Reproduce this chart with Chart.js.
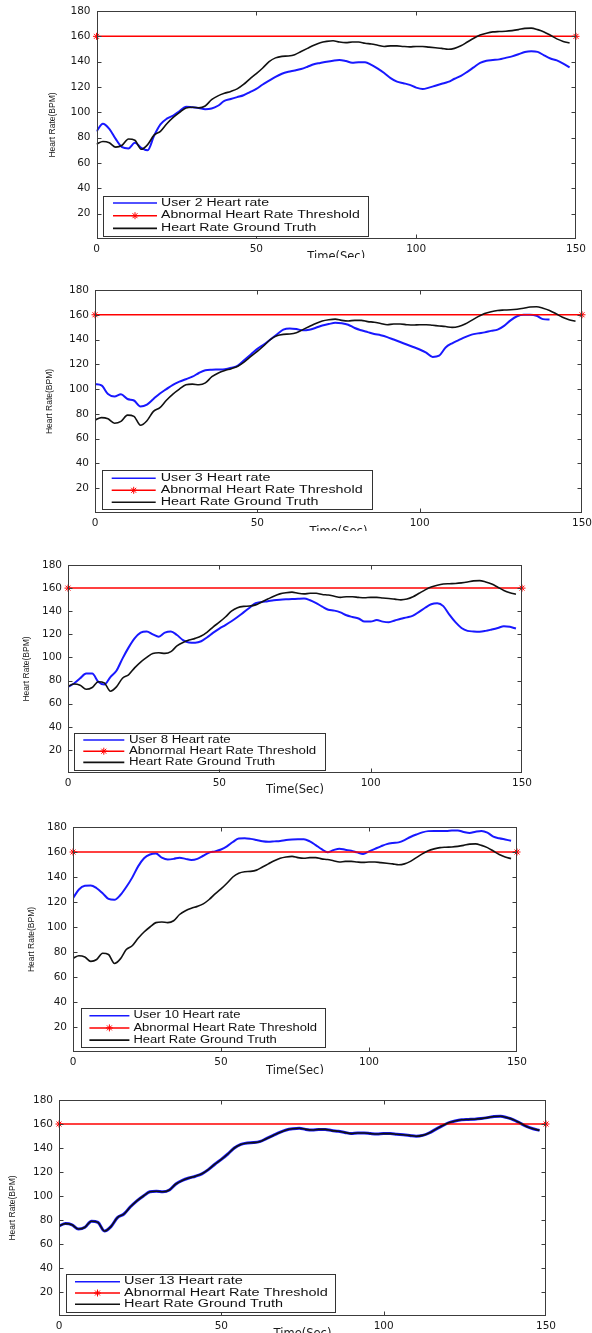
<!DOCTYPE html>
<html>
<head>
<meta charset="utf-8">
<script src="https://cdn.jsdelivr.net/npm/chart.js@4.4.1/dist/chart.umd.min.js"></script>
<style>
  html, body { margin: 0; padding: 0; background: #fff; }
  body { position: relative; width: 592px; height: 1333px; overflow: hidden; }
  canvas { position: absolute; left: 0; }
</style>
</head>
<body>
<canvas id="c1"></canvas>
<canvas id="c2"></canvas>
<canvas id="c3"></canvas>
<canvas id="c4"></canvas>
<canvas id="c5"></canvas>
<script>
// time axis, seconds
const times = [
  0, 2, 4, 6, 8, 10, 12, 14, 16, 18,
  20, 22, 24, 26, 28, 30, 32, 34, 36, 38,
  40, 42, 44, 46, 48, 50, 52, 54, 56, 58,
  60, 62, 64, 66, 68, 70, 72, 74, 76, 78,
  80, 82, 84, 86, 88, 90, 92, 94, 96, 98,
  100, 102, 104, 106, 108, 110, 112, 114, 116, 118,
  120, 122, 124, 126, 128, 130, 132, 134, 136, 138,
  140, 142, 144, 146, 148
];

const groundTruth = [
  75, 77, 76, 72.5, 74, 79, 78, 70.8, 74.5, 82,
  85, 91, 96, 100, 103.5, 104, 103.5, 105, 110, 113,
  115, 116.5, 118.5, 122, 126.5, 130.5, 135, 140, 143, 144.2,
  144.5, 145.5, 148, 150.5, 153, 155, 156, 156.5, 155.5, 155,
  155.5, 155.5, 154.5, 154, 153, 152, 152.5, 152.5, 152, 151.7,
  152, 152, 151.5, 151, 150.5, 149.8, 150.5, 152.5, 155.5, 158.5,
  161, 162.5, 163.5, 163.8, 164, 164.5, 165.3, 166.3, 166.5, 165.3,
  163.5, 160.8, 158, 156, 154.7
];

const user2 = [
  85, 91, 87, 79, 72.5, 71.5, 76, 72, 70, 81.5,
  90.5, 95, 97.5, 101, 104.5, 104, 103.5, 102.5, 103, 105.2,
  109, 110.5, 112, 113.5, 116, 118.5, 122, 125, 128, 130.5,
  132, 133, 134.2, 136, 138, 139, 140, 140.8, 141.3, 140.5,
  139.2, 139.5, 139.5, 137.5, 134.5, 131, 127, 124.2, 123, 121.7,
  119.5, 118.4, 119.5, 121, 122.5, 124, 126.5, 128.8, 132, 135.5,
  139, 140.8, 141.3, 141.8, 143, 144.2, 145.8, 147.6, 148.2, 147.7,
  145, 142.5, 141, 138.5, 135.5
];

const user3 = [
  104, 103, 96, 94, 95.8, 92, 90.8, 86, 87.5, 92,
  96.5, 100, 103.5, 106, 108, 110, 113, 115.3, 115.7, 115.8,
  116, 117.2, 119, 123.5, 128, 132.5, 136, 140, 144, 148,
  149, 148.5, 147.5, 148, 149.5, 151.3, 152.5, 153.5, 153.2, 152,
  149.3, 147.5, 146, 144.5, 143.5, 142, 140, 138, 136, 134,
  132, 129.5, 126, 127, 133.6, 137, 139.5, 142, 144, 145,
  145.8, 147, 148, 151, 155.5, 158.8, 160, 160, 159.2, 156.5,
  156.2
];

const user8 = [
  74.5, 77.5, 82, 86, 86, 79, 76.5, 83, 88.5, 99,
  108.5, 116.5, 121.5, 122.5, 120, 118, 121.5, 122.5, 119.4, 115,
  113, 112.8, 114, 117.5, 121.5, 125, 128, 131.3, 135, 139,
  143, 147, 148, 148.7, 149.5, 150, 150.3, 150.5, 150.8, 151,
  149.5, 147, 144, 141.3, 140.5, 139, 136.5, 135, 133.7, 131,
  131, 132.3, 131, 130.5, 132, 133.5, 134.7, 136.2, 139.5, 143,
  146, 146.8, 144.4, 137, 130.5, 125.5, 123, 122.5, 122.3, 123,
  124.2, 125.5, 127, 126.5, 125
];

const user10 = [
  123, 130, 133, 133.3, 131, 127, 122.5, 121.8, 125.6, 132,
  139.5, 148.5, 155, 158, 158.8, 155.5, 154, 154.5, 155.5, 154.5,
  153.6, 154.5, 157, 159.5, 160.5, 162, 164.5, 168, 170.8, 171,
  170.5, 169.6, 168.6, 168.2, 168.5, 168.8, 169.6, 170, 170.2, 170.2,
  168.5, 165.5, 162.3, 159.8, 161.5, 162.7, 161.8, 161, 159.7, 158.5,
  160.5, 162.5, 164.5, 166.3, 167.2, 167.7, 169.5, 172, 174, 175.7,
  176.7, 176.8, 176.8, 176.8, 177.2, 177.3, 176, 175.2, 176.2, 176.8,
  175.5, 172.3, 171, 170, 169
];

// user 13 follows the ground truth line exactly in the picture
const user13 = [
  75, 77, 76, 72.5, 74, 79, 78, 70.8, 74.5, 82,
  85, 91, 96, 100, 103.5, 104, 103.5, 105, 110, 113,
  115, 116.5, 118.5, 122, 126.5, 130.5, 135, 140, 143, 144.2,
  144.5, 145.5, 148, 150.5, 153, 155, 156, 156.5, 155.5, 155,
  155.5, 155.5, 154.5, 154, 153, 152, 152.5, 152.5, 152, 151.7,
  152, 152, 151.5, 151, 150.5, 149.8, 150.5, 152.5, 155.5, 158.5,
  161, 162.5, 163.5, 163.8, 164, 164.5, 165.3, 166.3, 166.5, 165.3,
  163.5, 160.8, 158, 156, 154.7
];

const threshold = 160;
const thresholdSpan = [0, 150];

const userLabels = ['User 2 Heart rate', 'User 3 Heart rate', 'User 8 Heart rate', 'User 10 Heart rate', 'User 13 Heart rate'];
const userSeries = [user2, user3, user8, user10, user13];

// page layout of the five stacked plots
const panels = [
  { id: 'c1', top: 0,    bottom: 258,  plot: { l: 96.5, t: 11,   r: 576, b: 239 },  yTitleX: 53, xTitleY: 257.5,
    legend: { l: 103,   t: 196,    w: 265,   h: 40,   row0: 7,   gap: 12.7, lineL: 10,  lineW: 44, textX: 58,   textW: 108 } },
  { id: 'c2', top: 262,  bottom: 531,  plot: { l: 95,   t: 290,  r: 582, b: 513 },  yTitleX: 50, xTitleY: 531.7,
    legend: { l: 101.7, t: 470,    w: 270,   h: 39.3, row0: 8.3, gap: 12,   lineL: 10,  lineW: 44, textX: 59,   textW: 109.7 } },
  { id: 'c3', top: 540,  bottom: 800,  plot: { l: 68,   t: 565,  r: 522, b: 773 },  yTitleX: 27, xTitleY: 790.4,
    legend: { l: 74,    t: 732.7,  w: 251,   h: 36.6, row0: 7.3, gap: 11.2, lineL: 9.3, lineW: 41, textX: 55,   textW: 101.7 } },
  { id: 'c4', top: 805,  bottom: 1074, plot: { l: 73,   t: 827,  r: 517, b: 1052 }, yTitleX: 32, xTitleY: 1071,
    legend: { l: 80.7,  t: 1007.7, w: 244.3, h: 39,   row0: 8,   gap: 12.2, lineL: 8.7, lineW: 40, textX: 52.7, textW: 107 } },
  { id: 'c5', top: 1075, bottom: 1333, plot: { l: 59,   t: 1100, r: 546, b: 1316 }, yTitleX: 13, xTitleY: 1334.4,
    legend: { l: 66,    t: 1274,   w: 269,   h: 38.3, row0: 7.7, gap: 11.3, lineL: 9,   lineW: 45, textX: 58,   textW: 118.7 } }
];

// matlab style frame with inward ticks on all four sides
const frame = {
  id: 'frame',
  afterDatasetsDraw(chart) {
    const { ctx, chartArea: a, scales: { x, y } } = chart;
    const l = Math.round(a.left) + 0.5, r = Math.round(a.right) - 0.5;
    const t = Math.round(a.top) + 0.5, b = Math.round(a.bottom) - 0.5;
    const tl = 4;
    ctx.save();
    ctx.strokeStyle = '#3c3c3c';
    ctx.lineWidth = 1;
    ctx.strokeRect(l, t, r - l, b - t);
    ctx.beginPath();
    x.ticks.forEach(tk => {
      if (tk.value <= x.min || tk.value >= x.max) return;
      const px = Math.round(x.getPixelForValue(tk.value)) + 0.5;
      ctx.moveTo(px, b); ctx.lineTo(px, b - tl);
      ctx.moveTo(px, t); ctx.lineTo(px, t + tl);
    });
    y.ticks.forEach(tk => {
      if (tk.value <= y.min || tk.value >= y.max) return;
      const py = Math.round(y.getPixelForValue(tk.value)) + 0.5;
      ctx.moveTo(l, py); ctx.lineTo(l + tl, py);
      ctx.moveTo(r, py); ctx.lineTo(r - tl, py);
    });
    ctx.stroke();
    ctx.restore();
  }
};

// legend box inside the lower left corner of the axes
const insetLegend = {
  id: 'insetLegend',
  afterDraw(chart, args, o) {
    const ctx = chart.ctx;
    const top = o.t - o.offset;
    ctx.save();
    ctx.fillStyle = '#fff';
    ctx.fillRect(o.l, top, o.w, o.h);
    ctx.strokeStyle = '#333';
    ctx.lineWidth = 1;
    ctx.strokeRect(Math.round(o.l) + 0.5, Math.round(top) + 0.5, Math.round(o.w), Math.round(o.h));
    ctx.font = '10px "Liberation Sans", Arial, sans-serif';
    ctx.textBaseline = 'middle';
    const sx = o.textW / ctx.measureText(chart.data.datasets[0].label).width;
    chart.data.datasets.forEach((ds, i) => {
      const ry = top + o.row0 + i * o.gap;
      ctx.strokeStyle = ds.borderColor;
      ctx.lineWidth = Math.min(ds.borderWidth, 1.6);
      ctx.beginPath();
      ctx.moveTo(o.l + o.lineL, ry);
      ctx.lineTo(o.l + o.lineL + o.lineW, ry);
      ctx.stroke();
      if (ds.pointRadius > 0) {
        ctx.lineWidth = 1;
        Chart.helpers.drawPoint(ctx, { pointStyle: ds.pointStyle, radius: ds.pointRadius, borderWidth: 1, rotation: 0 },
          o.l + o.lineL + o.lineW / 2, ry);
      }
      ctx.save();
      ctx.translate(o.l + o.textX, ry);
      ctx.scale(sx, 1);
      ctx.fillStyle = '#111';
      ctx.fillText(ds.label, 0, 0);
      ctx.restore();
    });
    ctx.restore();
  }
};

const tickFont = { family: '"DejaVu Sans", sans-serif', size: 10.5 };
const yTitleFont = { family: '"Liberation Sans", Arial, sans-serif', size: 8.5 };
const xTitleFont = { family: '"DejaVu Sans", sans-serif', size: 11.5 };

panels.forEach((p, k) => {
  const cv = document.getElementById(p.id);
  const h = p.bottom - p.top;
  cv.width = 592;
  cv.height = h;
  cv.style.top = p.top + 'px';
  cv.style.width = '592px';
  cv.style.height = h + 'px';

  const padLeft = p.yTitleX - yTitleFont.size * 0.6;
  const yWidth = p.plot.l - padLeft;
  const xHeight = p.bottom - p.plot.b;
  const xTitlePad = p.bottom - p.xTitleY - xTitleFont.size * 0.6;

  new Chart(cv, {
    type: 'line',
    data: {
      labels: times,
      datasets: [
        {
          label: userLabels[k],
          data: userSeries[k],
          borderColor: 'rgb(24,24,255)',
          borderWidth: k === 4 ? 3 : 2,
          pointRadius: 0,
          cubicInterpolationMode: 'monotone',
          order: 2
        },
        {
          label: 'Abnormal Heart Rate Threshold',
          data: thresholdSpan.map(t => ({ x: t, y: threshold })),
          borderColor: 'rgb(255,0,0)',
          borderWidth: 1.5,
          pointStyle: 'star',
          pointRadius: 3.5,
          pointBorderWidth: 1,
          order: 1,
          clip: false
        },
        {
          label: 'Heart Rate Ground Truth',
          data: groundTruth,
          borderColor: '#111',
          borderWidth: 1.6,
          pointRadius: 0,
          cubicInterpolationMode: 'monotone',
          order: 0
        }
      ]
    },
    options: {
      responsive: false,
      animation: false,
      devicePixelRatio: 1,
      layout: { padding: { left: padLeft, top: p.plot.t - p.top, right: 592 - p.plot.r, bottom: 0 } },
      plugins: {
        legend: { display: false },
        tooltip: { enabled: false },
        insetLegend: Object.assign({ offset: p.top }, p.legend)
      },
      scales: {
        x: {
          type: 'linear',
          min: 0,
          max: 150,
          grid: { display: false, drawTicks: false },
          border: { display: false },
          ticks: { stepSize: 50, padding: 3.5, font: tickFont, color: '#1a1a1a', maxRotation: 0 },
          title: { display: true, text: 'Time(Sec)', font: xTitleFont, color: '#1a1a1a', padding: { top: 0, bottom: xTitlePad } },
          afterFit: s => { s.height = xHeight; s.paddingLeft = 0; s.paddingRight = 0; }
        },
        y: {
          min: 0,
          max: 180,
          grid: { display: false, drawTicks: false },
          border: { display: false },
          ticks: { stepSize: 20, padding: 6, font: tickFont, color: '#1a1a1a', callback: v => (v === 0 ? '' : v) },
          title: { display: true, text: 'Heart Rate(BPM)', font: yTitleFont, color: '#1a1a1a', padding: { top: 0, bottom: 0 } },
          afterFit: s => { s.width = yWidth; s.paddingTop = 0; s.paddingBottom = 0; }
        }
      }
    },
    plugins: [frame, insetLegend]
  });
});
</script>
</body>
</html>
